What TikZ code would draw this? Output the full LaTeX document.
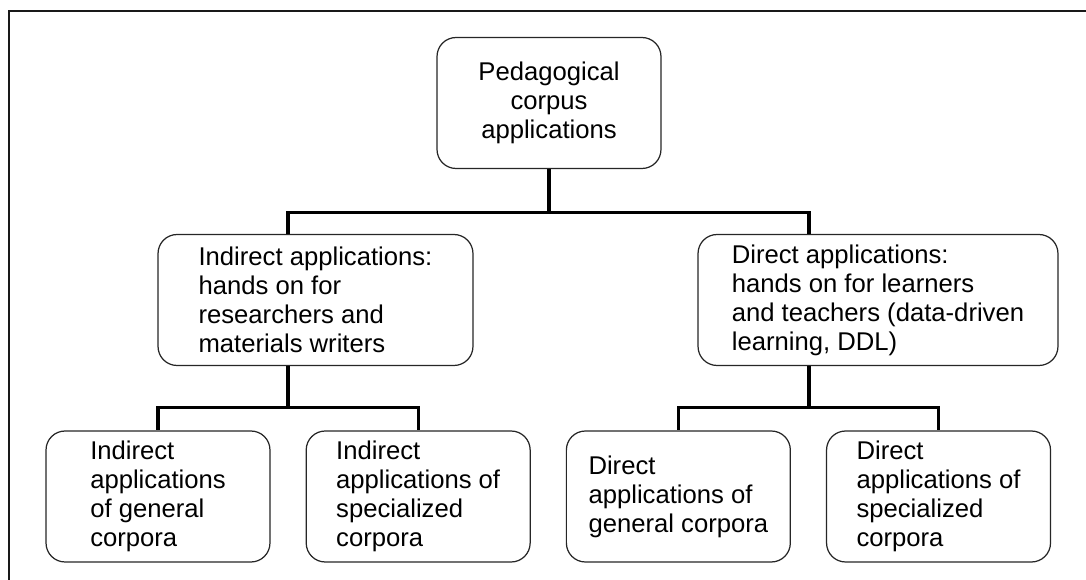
\documentclass[tikz,border=0pt]{standalone}
\usepackage{fontspec}
\setmainfont{Liberation Sans}
\usetikzlibrary{positioning}
\tikzset{
    base/.style={draw=black!85, line width=0.7pt, rounded corners=0.38cm, font=\fontsize{14.6pt}{16.5pt}\selectfont, fill=white},
    box/.style={base, rectangle, align=left, minimum width=4.48cm, minimum height=2.62cm},
    link/.style={line width=1.8pt, draw=black},
    frame/.style={line width=1.1pt, draw=black!90}
}
\begin{document}
\begin{tikzpicture}[x=0.02cm, y=-0.02cm, node distance=1.3cm and 0.7cm]
    \useasboundingbox (0,0) rectangle (1086,580);
    % Frame
    \draw [frame] (9,580) -- (9,11) -- (1086,11);

    % Nodes
    \node (root) [box, align=center] at (549,103) {Pedagogical\\corpus\\applications};

    \node (indirect) [box, minimum width=6.3cm] at (315.5,300) {Indirect applications:\\hands on for\\researchers and\\materials writers};
    \node (direct) [box, minimum width=7.2cm] at (878,300) {Direct applications:\\hands on for learners\\and teachers (data-driven\\learning, DDL)};

    % Bottom row
    \node (igen) [box] at (158,496.5) {Indirect\\applications\\of general\\corpora};
    \node (ispec) [box, right=of igen] {Indirect\\applications of\\specialized\\corpora};
    \node (dgen) [box, right=of ispec] {Direct\\applications of\\general corpora};
    \node (dspec) [box, right=of dgen] {Direct\\applications of\\specialized\\corpora};

    % Flows
    \draw [link] (root.south) -- ++(0,43) -| ([xshift=-0.55cm]indirect.north);
    \draw [link] (root.south) -- ++(0,43) -| ([xshift=-1.38cm]direct.north);

    \draw [link] ([xshift=-0.55cm]indirect.south) -- ++(0,41) -| (igen.north);
    \draw [link] ([xshift=-0.55cm]indirect.south) -- ++(0,41) -| (ispec.north);

    \draw [link] ([xshift=-1.38cm]direct.south) -- ++(0,41) -| (dgen.north);
    \draw [link] ([xshift=-1.38cm]direct.south) -- ++(0,41) -| (dspec.north);
\end{tikzpicture}
\end{document}
